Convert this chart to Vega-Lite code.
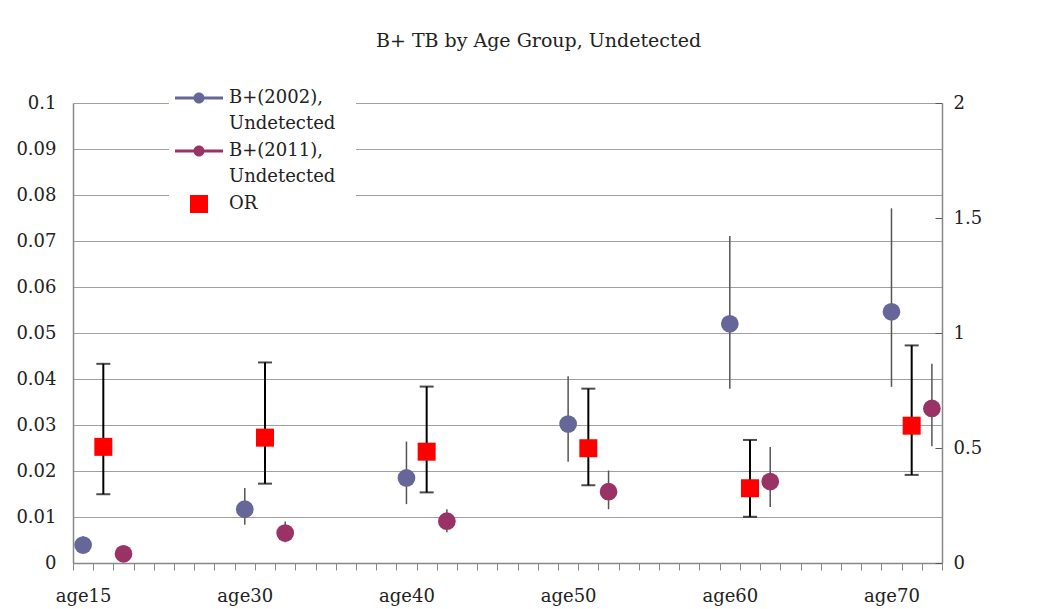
{
  "$schema": "https://vega.github.io/schema/vega-lite/v6.json",
  "width": 869,
  "height": 460,
  "autosize": "none",
  "padding": {"left": 73, "top": 103, "right": 113, "bottom": 46},
  "background": "white",
  "title": {"text": "B+ TB by Age Group, Undetected", "font": "DejaVu Serif", "fontSize": 19, "fontWeight": "normal", "color": "#222222", "anchor": "middle", "frame": "group", "dx": 31, "offset": 17},
  "config": {
    "view": {"stroke": null},
    "font": "DejaVu Serif",
    "style": {"guide-label": {"lineHeight": 26}},
    "axis": {"labelFont": "DejaVu Serif", "labelFontSize": 18, "labelColor": "#222222", "domainColor": "#888888", "domainWidth": 1.5, "tickColor": "#666666"},
    "legend": {"orient": "none", "legendX": 96, "legendY": -35, "title": null, "fillColor": "#ffffff", "padding": 20, "labelFont": "DejaVu Serif", "labelFontSize": 18, "labelColor": "#222222", "labelOffset": 20, "labelLimit": 400, "symbolSize": 400, "rowPadding": 8, "symbolStrokeWidth": 0}
  },
  "data": {"values": [
    {"group": "age15", "slot": 0, "series": "B+(2002), Undetected", "value": 0.0039, "low": 0.0025, "high": 0.0058},
    {"group": "age30", "slot": 8, "series": "B+(2002), Undetected", "value": 0.0117, "low": 0.0083, "high": 0.0163},
    {"group": "age40", "slot": 16, "series": "B+(2002), Undetected", "value": 0.0185, "low": 0.0128, "high": 0.0264},
    {"group": "age50", "slot": 24, "series": "B+(2002), Undetected", "value": 0.0302, "low": 0.022, "high": 0.0406},
    {"group": "age60", "slot": 32, "series": "B+(2002), Undetected", "value": 0.052, "low": 0.0379, "high": 0.0711},
    {"group": "age70", "slot": 40, "series": "B+(2002), Undetected", "value": 0.0546, "low": 0.0383, "high": 0.0771},
    {"group": "age15", "slot": 2, "series": "B+(2011), Undetected", "value": 0.002, "low": 0.001, "high": 0.0035},
    {"group": "age30", "slot": 10, "series": "B+(2011), Undetected", "value": 0.0065, "low": 0.0045, "high": 0.009},
    {"group": "age40", "slot": 18, "series": "B+(2011), Undetected", "value": 0.0091, "low": 0.0067, "high": 0.0117},
    {"group": "age50", "slot": 26, "series": "B+(2011), Undetected", "value": 0.0155, "low": 0.0117, "high": 0.0201},
    {"group": "age60", "slot": 34, "series": "B+(2011), Undetected", "value": 0.0177, "low": 0.0122, "high": 0.0252},
    {"group": "age70", "slot": 42, "series": "B+(2011), Undetected", "value": 0.0336, "low": 0.0254, "high": 0.0433},
    {"group": "age15", "slot": 1, "series": "OR", "value": 0.505, "low": 0.299, "high": 0.866},
    {"group": "age30", "slot": 9, "series": "OR", "value": 0.545, "low": 0.345, "high": 0.872},
    {"group": "age40", "slot": 17, "series": "OR", "value": 0.484, "low": 0.307, "high": 0.767},
    {"group": "age50", "slot": 25, "series": "OR", "value": 0.499, "low": 0.338, "high": 0.758},
    {"group": "age60", "slot": 33, "series": "OR", "value": 0.325, "low": 0.201, "high": 0.535},
    {"group": "age70", "slot": 41, "series": "OR", "value": 0.597, "low": 0.383, "high": 0.946}
  ]},
  "encoding": {
    "x": {
      "field": "slot", "type": "quantitative",
      "scale": {"domain": [-0.5, 42.5], "nice": false, "zero": false},
      "axis": {
        "title": null, "grid": false,
        "values": [-0.5, 0, 0.5, 1.5, 2.5, 3.5, 4.5, 5.5, 6.5, 7.5, 8, 8.5, 9.5, 10.5, 11.5, 12.5, 13.5, 14.5, 15.5, 16, 16.5, 17.5, 18.5, 19.5, 20.5, 21.5, 22.5, 23.5, 24, 24.5, 25.5, 26.5, 27.5, 28.5, 29.5, 30.5, 31.5, 32, 32.5, 33.5, 34.5, 35.5, 36.5, 37.5, 38.5, 39.5, 40, 40.5, 41.5, 42.5],
        "tickSize": 7, "tickWidth": 1, "tickColor": "#888888",
        "tickOpacity": {"condition": {"test": "datum.value % 1 != 0", "value": 1}, "value": 0},
        "labelExpr": "datum.value % 1 == 0 ? 'age' + [15, 30, 40, 50, 60, 70][datum.value / 8] : ''",
        "labelOverlap": false, "labelFlush": false, "labelBound": false,
        "labelPadding": 17
      }
    }
  },
  "layer": [
    {
      "transform": [{"filter": "datum.series == 'OR'"}],
      "layer": [
        {
          "mark": {"type": "rule", "color": "#000000", "strokeWidth": 2},
          "encoding": {
            "y": {"field": "low", "type": "quantitative", "scale": {"domain": [0, 2], "nice": false}, "axis": {"orient": "right", "title": null, "grid": false, "values": [0, 0.5, 1, 1.5, 2], "format": "~g", "tickSize": -7, "tickColor": "#555555", "labelPadding": 18}},
            "y2": {"field": "high"}
          }
        },
        {
          "mark": {"type": "tick", "orient": "horizontal", "color": "#000000", "size": 14, "thickness": 2},
          "encoding": {
            "y": {"field": "low", "type": "quantitative", "scale": {"domain": [0, 2], "nice": false}, "axis": {"orient": "right", "title": null, "grid": false, "values": [0, 0.5, 1, 1.5, 2], "format": "~g", "tickSize": -7, "tickColor": "#555555", "labelPadding": 18}}
          }
        },
        {
          "mark": {"type": "tick", "orient": "horizontal", "color": "#000000", "size": 14, "thickness": 2},
          "encoding": {
            "y": {"field": "high", "type": "quantitative", "scale": {"domain": [0, 2], "nice": false}, "axis": {"orient": "right", "title": null, "grid": false, "values": [0, 0.5, 1, 1.5, 2], "format": "~g", "tickSize": -7, "tickColor": "#555555", "labelPadding": 18}}
          }
        },
        {
          "mark": {"type": "point", "filled": true, "size": 400, "opacity": 1, "strokeWidth": 0},
          "encoding": {
            "y": {"field": "value", "type": "quantitative", "scale": {"domain": [0, 2], "nice": false}, "axis": {"orient": "right", "title": null, "grid": false, "values": [0, 0.5, 1, 1.5, 2], "format": "~g", "tickSize": -7, "tickColor": "#555555", "labelPadding": 18}},
            "color": {
              "field": "series", "type": "nominal",
              "scale": {"domain": ["B+(2002), Undetected", "B+(2011), Undetected", "OR"], "range": ["#666699", "#993366", "#ff0000"]},
              "legend": {"labelExpr": "split(datum.label, ' ')"}
            },
            "shape": {
              "field": "series", "type": "nominal",
              "scale": {"domain": ["B+(2002), Undetected", "B+(2011), Undetected", "OR"], "range": [
                "M-2.4,-0.145L2.4,-0.145L2.4,0.145L-2.4,0.145Z M-0.55,0A0.55,0.55,0,1,1,0.55,0A0.55,0.55,0,1,1,-0.55,0Z",
                "M-2.4,-0.145L2.4,-0.145L2.4,0.145L-2.4,0.145Z M-0.55,0A0.55,0.55,0,1,1,0.55,0A0.55,0.55,0,1,1,-0.55,0Z",
                "M-0.9,-0.9L0.9,-0.9L0.9,0.9L-0.9,0.9Z"
              ]},
              "legend": {"labelExpr": "split(datum.label, ' ')"}
            }
          }
        }
      ]
    },
    {
      "transform": [{"filter": "datum.series != 'OR'"}],
      "layer": [
        {
          "mark": {"type": "rule", "color": "#555555", "strokeWidth": 1.5},
          "encoding": {
            "y": {"field": "low", "type": "quantitative", "scale": {"domain": [0, 0.1], "nice": false}, "axis": {"orient": "left", "title": null, "grid": true, "gridColor": "#a0a0a0", "gridWidth": 1, "values": [0, 0.01, 0.02, 0.03, 0.04, 0.05, 0.06, 0.07, 0.08, 0.09, 0.1], "format": "~g", "ticks": false, "tickSize": 0, "labelPadding": 17}},
            "y2": {"field": "high"}
          }
        },
        {
          "mark": {"type": "circle", "size": 314, "opacity": 1},
          "encoding": {
            "y": {"field": "value", "type": "quantitative", "scale": {"domain": [0, 0.1], "nice": false}, "axis": {"orient": "left", "title": null, "grid": true, "gridColor": "#a0a0a0", "gridWidth": 1, "values": [0, 0.01, 0.02, 0.03, 0.04, 0.05, 0.06, 0.07, 0.08, 0.09, 0.1], "format": "~g", "ticks": false, "tickSize": 0, "labelPadding": 17}},
            "color": {
              "field": "series", "type": "nominal",
              "scale": {"domain": ["B+(2002), Undetected", "B+(2011), Undetected", "OR"], "range": ["#666699", "#993366", "#ff0000"]},
              "legend": {"labelExpr": "split(datum.label, ' ')"}
            }
          }
        }
      ]
    }
  ],
  "resolve": {"scale": {"y": "independent"}}
}
